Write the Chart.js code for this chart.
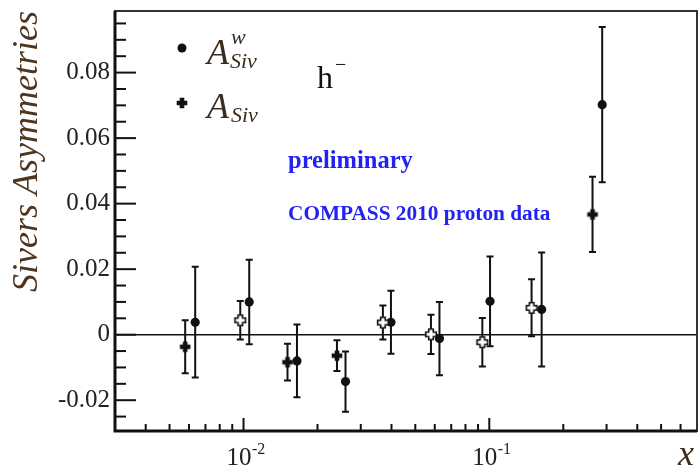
<!DOCTYPE html>
<html><head><meta charset="utf-8">
<script src="https://cdn.jsdelivr.net/npm/chart.js@4.4.0/dist/chart.umd.min.js"></script>
<style>html,body{margin:0;padding:0;background:#fff;}canvas{display:block}</style>
</head><body>
<canvas id="c" width="699" height="469"></canvas>
<script>
// ---- data ----
const xA = [0.00579, 0.0097, 0.0151, 0.0240, 0.0369, 0.0579, 0.0937, 0.1486, 0.263];
const yA = [-0.0037, 0.0044, -0.0084, -0.0064, 0.0037, 0.0001, -0.0023, 0.0082, 0.0367];
const eA = [0.0081, 0.0059, 0.0056, 0.0047, 0.0052, 0.0060, 0.0074, 0.0087, 0.0115];
const openA = [false, true, false, false, true, true, true, true, false];

const xW = [0.00636, 0.01055, 0.0165, 0.0260, 0.0398, 0.0627, 0.1007, 0.1633, 0.288];
const yW = [0.0038, 0.0100, -0.0080, -0.0143, 0.0038, -0.0012, 0.0102, 0.0077, 0.0702];
const eW = [0.0169, 0.0129, 0.0111, 0.0092, 0.0096, 0.0112, 0.0137, 0.0174, 0.0237];

const yMajorTicks = [-0.02, 0, 0.02, 0.04, 0.06, 0.08];
const yMinorTicks = [-0.025,-0.015,-0.01,-0.005,0.005,0.01,0.015,0.025,0.03,0.035,0.045,0.05,0.055,0.065,0.07,0.075,0.085,0.09,0.095];
const xMajorTicks = [0.01, 0.1];
const xMinorTicks = [0.003,0.004,0.005,0.006,0.007,0.008,0.009,0.02,0.03,0.04,0.05,0.06,0.07,0.08,0.09,0.2,0.3,0.4,0.5,0.6,0.7];
const xTickBase = ['10', '10'];
const xTickExp = ['-2', '-1'];

const SERIF = "'Liberation Serif','Times New Roman',serif";
const INK = '#111';
const LABEL = '#222';

function crossImg(open){
  const c = document.createElement('canvas'); c.width = 14; c.height = 14;
  const g = c.getContext('2d'); const cx = 7, cy = 7, a = 2.3, L = 5.3;
  g.beginPath();
  g.moveTo(cx-a,cy-L); g.lineTo(cx+a,cy-L); g.lineTo(cx+a,cy-a); g.lineTo(cx+L,cy-a);
  g.lineTo(cx+L,cy+a); g.lineTo(cx+a,cy+a); g.lineTo(cx+a,cy+L); g.lineTo(cx-a,cy+L);
  g.lineTo(cx-a,cy+a); g.lineTo(cx-L,cy+a); g.lineTo(cx-L,cy-a); g.lineTo(cx-a,cy-a);
  g.closePath();
  if (open){ g.fillStyle='#fff'; g.fill(); g.lineWidth=1.6; g.strokeStyle=INK; g.stroke(); }
  else { g.fillStyle=INK; g.fill(); }
  return c;
}
const crossFilled = crossImg(false), crossOpen = crossImg(true);

const errPlugin = {
  id: 'errbars',
  beforeDatasetsDraw(chart){
    const {ctx, chartArea:a, scales:{x, y}} = chart;
    ctx.save();
    ctx.strokeStyle = INK; ctx.lineWidth = 1.6;
    const y0 = y.getPixelForValue(0);
    ctx.beginPath(); ctx.moveTo(a.left, y0); ctx.lineTo(a.right, y0); ctx.stroke();
    chart.data.datasets.forEach(ds => {
      ds.data.forEach(p => {
        const px = x.getPixelForValue(p.x);
        const t = y.getPixelForValue(p.y + p.err), b = y.getPixelForValue(p.y - p.err);
        ctx.lineWidth = 2;
        ctx.beginPath();
        ctx.moveTo(px, t); ctx.lineTo(px, b);
        ctx.moveTo(px-3.5, t); ctx.lineTo(px+3.5, t);
        ctx.moveTo(px-3.5, b); ctx.lineTo(px+3.5, b);
        ctx.stroke();
      });
    });
    ctx.restore();
  }
};

function txt(ctx, s, x, y, font, color, align){
  ctx.font = font; ctx.fillStyle = color; ctx.textAlign = align || 'left'; ctx.textBaseline = 'alphabetic';
  ctx.fillText(s, x, y);
}

const framePlugin = {
  id: 'frame',
  afterDraw(chart){
    const {ctx, chartArea:a, scales:{x, y}} = chart;
    ctx.save();
    ctx.strokeStyle = INK; ctx.lineWidth = 2;
    y.ticks.forEach(t => {
      const py = y.getPixelForValue(t.value);
      const L = yMajorTicks.includes(t.value) ? 21 : 11;
      ctx.beginPath(); ctx.moveTo(a.left, py); ctx.lineTo(a.left + L, py); ctx.stroke();
    });
    x.ticks.forEach(t => {
      const px = x.getPixelForValue(t.value);
      const L = xMajorTicks.includes(t.value) ? 13 : 7;
      ctx.beginPath(); ctx.moveTo(px, a.bottom); ctx.lineTo(px, a.bottom - L); ctx.stroke();
    });
    ctx.lineWidth = 2; ctx.strokeStyle = '#333';
    ctx.strokeRect(a.left, a.top, a.right - a.left, a.bottom - a.top);
    ctx.lineWidth = 3; ctx.strokeStyle = INK;
    ctx.beginPath(); ctx.moveTo(a.left, a.top); ctx.lineTo(a.left, a.bottom); ctx.lineTo(a.right, a.bottom); ctx.stroke();

    // x tick labels with superscript exponent
    xMajorTicks.forEach((v, i) => {
      const px = x.getPixelForValue(v);
      ctx.font = '25px ' + SERIF;
      const w1 = ctx.measureText(xTickBase[i]).width;
      txt(ctx, xTickBase[i], px - 17, 465, '25px ' + SERIF, LABEL);
      txt(ctx, xTickExp[i], px - 17 + w1 + 0.5, 454, '16px ' + SERIF, LABEL);
    });
    // x axis title
    txt(ctx, 'x', 694, 465, 'italic 36px ' + SERIF, '#3a2c1e', 'right');

    // legend
    const lc = '#3a2c1e';
    ctx.fillStyle = INK;
    ctx.beginPath(); ctx.arc(182, 48, 4.5, 0, Math.PI*2); ctx.fill();
    ctx.drawImage(crossFilled, 182-7, 103-7);
    txt(ctx, 'A', 207, 64, 'italic 36px ' + SERIF, lc);
    txt(ctx, 'w', 231, 44, 'italic 22px ' + SERIF, lc);
    txt(ctx, 'Siv', 230, 68, 'italic 22px ' + SERIF, lc);
    txt(ctx, 'A', 207, 118, 'italic 36px ' + SERIF, lc);
    txt(ctx, 'Siv', 231, 122, 'italic 22px ' + SERIF, lc);

    // h-
    txt(ctx, 'h', 317, 88, '32px ' + SERIF, INK);
    txt(ctx, '\u2212', 335, 71, '20px ' + SERIF, INK);

    // annotations
    txt(ctx, 'preliminary', 288, 168, 'bold 24.5px ' + SERIF, '#2222f5');
    txt(ctx, 'COMPASS 2010 proton data', 288, 220, 'bold 21.3px ' + SERIF, '#2222f5');
    ctx.restore();
  }
};

function noPad(s){ s.paddingLeft = 0; s.paddingRight = 0; s.paddingTop = 0; s.paddingBottom = 0; }

new Chart(document.getElementById('c'), {
  type: 'scatter',
  data: {
    datasets: [
      { label: 'A_Siv', data: xA.map((v,i)=>({x:v, y:yA[i], err:eA[i]})),
        pointStyle: xA.map((v,i)=> openA[i] ? crossOpen : crossFilled),
        pointRadius: 5, showLine: false },
      { label: 'A^w_Siv', data: xW.map((v,i)=>({x:v, y:yW[i], err:eW[i]})),
        pointStyle: 'circle', pointRadius: 4.6, pointBorderWidth: 0,
        backgroundColor: INK, borderColor: INK, showLine: false }
    ]
  },
  options: {
    responsive: false, animation: false, devicePixelRatio: 1,
    layout: { autoPadding: false, padding: { left: 0, top: 11, right: 2, bottom: 0 } },
    plugins: { legend: { display: false }, tooltip: { enabled: false } },
    scales: {
      x: {
        type: 'logarithmic', min: 0.003, max: 0.7,
        grid: { display: false, drawTicks: false }, border: { display: false },
        afterBuildTicks: s => { s.ticks = xMinorTicks.concat(xMajorTicks).sort((p,q)=>p-q).map(v=>({value:v})); },
        afterFit: s => { s.height = 38; noPad(s); },
        ticks: { display: false, autoSkip: false },
        title: { display: false }
      },
      y: {
        type: 'linear', min: -0.0294, max: 0.0988,
        grid: { display: false, drawTicks: false }, border: { display: false },
        afterBuildTicks: s => { s.ticks = yMinorTicks.concat(yMajorTicks).sort((p,q)=>p-q).map(v=>({value:v})); },
        afterFit: s => { s.width = 115; noPad(s); },
        ticks: { autoSkip: false, padding: 5, color: LABEL,
          font: { family: SERIF, size: 25 },
          callback: v => yMajorTicks.includes(v) ? (v === 0 ? '0' : v.toFixed(2)) : '' },
        title: { display: true, text: 'Sivers Asymmetries', align: 'end', color: '#4d3520',
          padding: { top: 10, bottom: 0 },
          font: { family: SERIF, size: 36, style: 'italic', lineHeight: 1 } }
      }
    }
  },
  plugins: [errPlugin, framePlugin]
});
</script>
</body></html>
